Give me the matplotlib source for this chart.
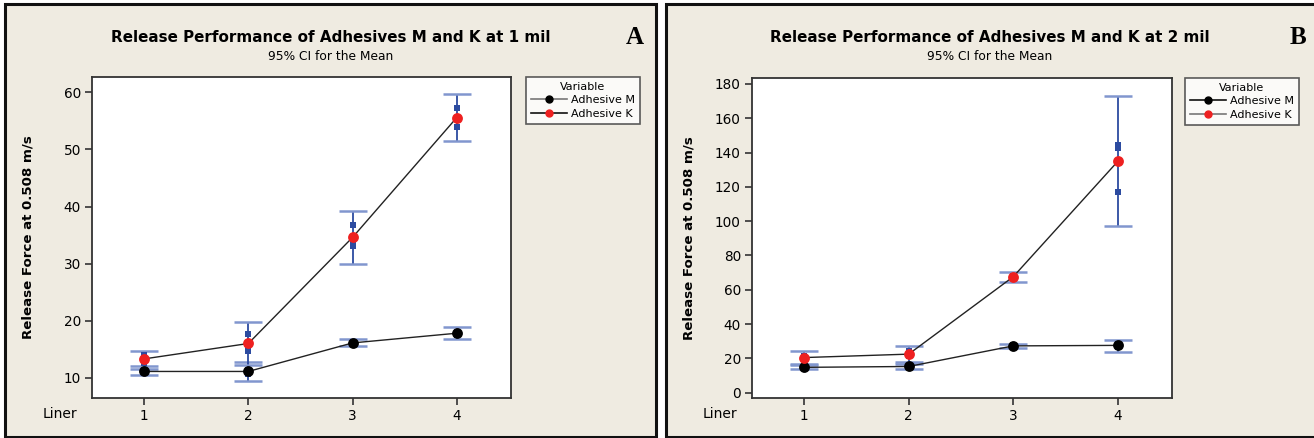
import numpy as np
import matplotlib.pyplot as plt
from matplotlib.patches import Rectangle
from matplotlib.lines import Line2D

W, H = 1314, 438

liners = [1, 2, 3, 4]

# panel A - 1 mil
m1_mean = [11.1, 11.1, 16.1, 17.8]
m1_lo = [10.4, 9.4, 15.6, 16.8]
m1_hi = [11.6, 12.7, 16.7, 18.9]
m1_pts = [[11.0, 11.3, 11.0], [10.6, 11.4, 11.3], [16.0, 16.3, 16.0], [17.5, 18.0, 17.9]]
k1_mean = [13.3, 16.0, 34.6, 55.6]
k1_lo = [12.0, 12.3, 30.0, 51.4]
k1_hi = [14.6, 19.7, 39.3, 59.7]
k1_pts = [[13.9, 12.6, 13.4], [17.6, 14.7, 15.7], [36.7, 33.0, 34.1], [57.3, 54.0, 55.5]]

# panel B - 2 mil
m2_mean = [14.8, 15.3, 27.3, 27.6]
m2_lo = [13.6, 13.6, 26.0, 23.7]
m2_hi = [15.9, 17.0, 28.2, 30.5]
m2_pts = [[14.5, 15.2, 14.7], [15.0, 15.8, 15.1], [27.0, 27.6, 27.3], [26.8, 28.2, 27.8]]
k2_mean = [20.5, 22.5, 67.6, 134.8]
k2_lo = [16.7, 17.9, 64.5, 97.0]
k2_hi = [24.3, 27.4, 70.6, 172.8]
k2_pts = [[20.0, 21.5, 20.0], [24.5, 21.5, 21.5], [67.5, 68.0, 67.3], [144.5, 142.5, 117.3]]

bg = '#EFEBE1'
blue = '#2C4BA0'
capblue = '#8196CE'


def px(x0, y0, x1, y1):
    # pixel box (top-left origin) -> figure fraction rect
    return [x0 / W, 1 - y1 / H, (x1 - x0) / W, (y1 - y0) / H]


fig = plt.figure(figsize=(W / 100, H / 100), dpi=100)
fig.patch.set_facecolor('white')

# panel backgrounds with border
for x0, x1 in [(5, 656), (666, 1320)]:
    r = Rectangle((x0 / W, 1 - 437 / H), (x1 - x0) / W, 433 / H,
                  transform=fig.transFigure, facecolor=bg, edgecolor='#111111',
                  linewidth=2.2, zorder=-10)
    fig.patches.append(r)


def draw_panel(box, ylim, yticks, m_mean, m_lo, m_hi, m_pts, k_mean, k_lo, k_hi, k_pts,
               title, letter, cx, letter_x, leg_box, leg_cols):
    ax = fig.add_axes(px(*box), zorder=2)
    ax.set_facecolor('white')
    axw = box[2] - box[0]
    for mean, lo, hi in [(m_mean, m_lo, m_hi), (k_mean, k_lo, k_hi)]:
        mean = np.array(mean)
        err = [mean - np.array(lo), np.array(hi) - mean]
        _, caps, bars = ax.errorbar(liners, mean, yerr=err, fmt='none', ecolor=blue,
                                    elinewidth=1.3, capsize=10, capthick=1.8, zorder=2)
        for c in caps:
            c.set_color(capblue)
            c.set_markeredgecolor(capblue)
    for pts in [m_pts, k_pts]:
        for x, p in zip(liners, pts):
            ax.plot([x] * len(p), p, 's', color=blue, ms=4.4, mew=0, zorder=3)
    ax.plot(liners, m_mean, '-', color='#222222', lw=1.0, zorder=4)
    ax.plot(liners, k_mean, '-', color='#222222', lw=1.0, zorder=4)
    ax.plot(liners, m_mean, 'o', color='black', ms=7.8, mew=0, zorder=5)
    ax.plot(liners, k_mean, 'o', color='#EE2020', ms=7.8, mew=0, zorder=5)

    ax.set_xlim(0.5, 4.52)
    ax.set_ylim(*ylim)
    ax.set_xticks(liners)
    ax.set_yticks(yticks)
    ax.tick_params(direction='out', length=5, width=1.2, color='#333333',
                   labelsize=9.8, pad=3)
    for s in ax.spines.values():
        s.set_color('#333333')
        s.set_linewidth(1.3)
    ax.set_ylabel('Release Force at 0.508 m/s', fontsize=9.6, fontweight='bold')
    ax.yaxis.set_label_coords(-57 / axw, 0.5)
    ax.text(-15 / axw, -0.05, 'Liner', transform=ax.transAxes, ha='right', va='center',
            fontsize=10)

    fig.text(cx / W, 1 - 38 / H, title, ha='center', va='center', fontsize=10.9,
             fontweight='bold')
    fig.text(cx / W, 1 - 57 / H, '95% CI for the Mean', ha='center', va='center', fontsize=8.8)
    fig.text(letter_x / W, 1 - 38 / H, letter, ha='center', va='center', fontsize=18,
             fontweight='bold', family='Liberation Serif')

    handles = [Line2D([], [], color=leg_cols[0], lw=1.2, marker='o', ms=5,
                      markerfacecolor='black', markeredgecolor='black'),
               Line2D([], [], color=leg_cols[1], lw=1.2, marker='o', ms=5,
                      markerfacecolor='#EE2020', markeredgecolor='#EE2020')]
    x0, y0, x1, y1 = leg_box
    leg = fig.legend(handles, ['Adhesive M', 'Adhesive K'], title='Variable',
                     loc='upper left', bbox_to_anchor=(x0 / W, 1 - y0 / H),
                     fontsize=8.0, title_fontsize=8.0, frameon=True, fancybox=False,
                     edgecolor='#333333', handlelength=3.2, handletextpad=0.4,
                     borderpad=0.45, labelspacing=0.3, borderaxespad=0)
    leg.get_frame().set_linewidth(1.2)
    leg.get_frame().set_facecolor('white')
    return ax


draw_panel((92, 77, 511, 397.7), (6.5, 62.7), [10, 20, 30, 40, 50, 60],
           m1_mean, m1_lo, m1_hi, m1_pts, k1_mean, k1_lo, k1_hi, k1_pts,
           'Release Performance of Adhesives M and K at 1 mil', 'A', 331, 635,
           (526, 77, 641, 129), ('#777777', '#111111'))

draw_panel((752, 78.3, 1172, 397.7), (-2.9, 183.3), [0, 20, 40, 60, 80, 100, 120, 140, 160, 180],
           m2_mean, m2_lo, m2_hi, m2_pts, k2_mean, k2_lo, k2_hi, k2_pts,
           'Release Performance of Adhesives M and K at 2 mil', 'B', 990, 1298,
           (1185, 78, 1298, 130), ('#111111', '#777777'))

fig.savefig('out.png', dpi=100, facecolor=fig.get_facecolor())
